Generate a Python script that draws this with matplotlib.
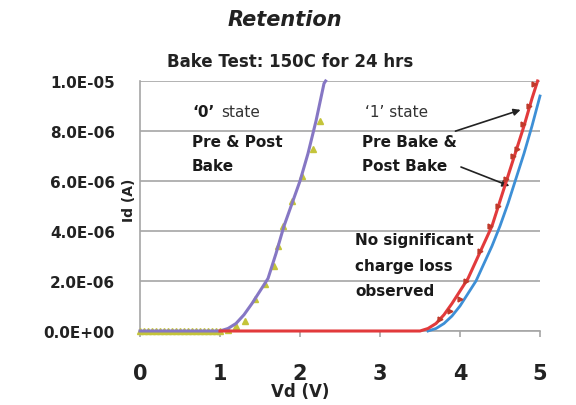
import matplotlib
matplotlib.use("Agg")
import matplotlib.pyplot as plt
from matplotlib.ticker import FuncFormatter

# '0' state, pre bake (line)
v0_pre = [0.0, 0.5, 1.0, 1.1, 1.2, 1.3, 1.4, 1.5, 1.6, 1.7, 1.8, 1.9, 2.0, 2.1, 2.2, 2.3, 2.32]
i0_pre = [0, 0, 0, 0.1e-6, 0.3e-6, 0.65e-6, 1.1e-6, 1.6e-6, 2.1e-6, 3.1e-6, 4.2e-6,
          5.1e-6, 6.0e-6, 7.1e-6, 8.4e-6, 9.9e-6, 1.0e-5]
# '0' state, post bake (triangles)
v0_post = [0.0, 0.05, 0.1, 0.15, 0.2, 0.25, 0.3, 0.35, 0.4, 0.45, 0.5, 0.55, 0.6, 0.65,
           0.7, 0.75, 0.8, 0.85, 0.9, 0.95, 1.0, 1.1, 1.2, 1.31, 1.44, 1.56, 1.67, 1.73,
           1.79, 1.9, 2.03, 2.16, 2.25]
i0_post = [0] * 21 + [0.05e-6, 0.2e-6, 0.4e-6, 1.3e-6, 1.9e-6, 2.6e-6, 3.4e-6, 4.2e-6,
                      5.2e-6, 6.2e-6, 7.3e-6, 8.4e-6]

# '1' state, pre bake (red line)
v1_pre = [1.0, 2.0, 3.0, 3.5, 3.6, 3.7, 3.8, 3.9, 4.0, 4.1, 4.2, 4.3, 4.4, 4.5, 4.6,
          4.7, 4.8, 4.9, 4.97]
i1_pre = [0, 0, 0, 0, 0.1e-6, 0.3e-6, 0.65e-6, 1.1e-6, 1.6e-6, 2.1e-6, 2.8e-6, 3.5e-6,
          4.2e-6, 5.2e-6, 6.2e-6, 7.2e-6, 8.2e-6, 9.3e-6, 1.0e-5]
# '1' state, red markers
v1_mk = [3.75, 3.87, 4.0, 4.08, 4.25, 4.37, 4.48, 4.58, 4.66, 4.71, 4.79, 4.86, 4.92]
i1_mk = [0.5e-6, 0.8e-6, 1.3e-6, 2.0e-6, 3.2e-6, 4.2e-6, 5.0e-6, 6.1e-6, 7.0e-6, 7.3e-6,
         8.3e-6, 9.0e-6, 9.9e-6]
# '1' state, post bake (blue line)
v1_post = [3.6, 3.7, 3.8, 3.9, 4.0, 4.1, 4.2, 4.3, 4.4, 4.5, 4.6, 4.7, 4.8, 4.9, 5.0]
i1_post = [0, 0.1e-6, 0.3e-6, 0.6e-6, 1.0e-6, 1.5e-6, 2.0e-6, 2.7e-6, 3.4e-6, 4.2e-6,
           5.1e-6, 6.1e-6, 7.1e-6, 8.2e-6, 9.4e-6]

y_ticks = [0, 2e-6, 4e-6, 6e-6, 8e-6, 1e-5]
x_ticks = [0, 1, 2, 3, 4, 5]

plt.rcParams['font.family'] = 'DejaVu Sans'

fig = plt.figure(figsize=(5.76, 4.06), dpi=100)
ax = fig.add_axes([140 / 576, 1 - 332 / 406, 400 / 576, 250 / 406])

ax.set_xlim(0, 5)
ax.set_ylim(0, 1e-5)
ax.set_yticks(y_ticks)
ax.set_xticks(x_ticks)
ax.yaxis.set_major_formatter(FuncFormatter(lambda v, p: f"{v:.1E}"))
ax.grid(axis='y', color='#a6a6a6', lw=1.2)
ax.set_axisbelow(True)
for s in ['top', 'right']:
    ax.spines[s].set_visible(False)
for s in ['left', 'bottom']:
    ax.spines[s].set_color('#a6a6a6')
    ax.spines[s].set_linewidth(1.2)
ax.tick_params(axis='y', length=0, pad=18, labelsize=11)
ax.tick_params(axis='x', length=4, color='#a6a6a6', width=1.2, pad=19, labelsize=15)
for lab in ax.get_xticklabels() + ax.get_yticklabels():
    lab.set_fontweight('bold')
    lab.set_color('#222222')

ax.plot(v0_post, i0_post, '^', color='#c4c43a', ms=5, clip_on=False, zorder=3)
ax.plot(v0_pre, i0_pre, '-', color='#8677c4', lw=2.2, clip_on=False, zorder=4)
ax.plot(v1_post, i1_post, '-', color='#3d8fd6', lw=2.0, clip_on=False, zorder=3)
ax.plot(v1_pre, i1_pre, '-', color='#e23a3c', lw=2.2, clip_on=False, zorder=4)
ax.plot(v1_mk, i1_mk, '>', color='#c0392b', ms=3.5, clip_on=False, zorder=5)

bold = dict(fontsize=11, fontweight='bold', color='#1a1a1a')
ax.text(0.65, 8.8e-6, "\u20180\u2019", va='center', **bold)
ax.text(1.02, 8.8e-6, "state", va='center', fontsize=11, color='#333333')
ax.text(0.65, 7.6e-6, "Pre & Post", va='center', **bold)
ax.text(0.65, 6.64e-6, "Bake", va='center', **bold)

ax.text(2.81, 8.8e-6, "\u20181\u2019 state", va='center', fontsize=11, color='#333333')
ax.text(2.78, 7.6e-6, "Pre Bake &", va='center', **bold)
ax.text(2.78, 6.64e-6, "Post Bake", va='center', **bold)
ax.annotate("", xy=(4.79, 8.88e-6), xytext=(3.91, 7.96e-6),
            arrowprops=dict(arrowstyle='-|>', color='#222222', lw=1.2))
ax.annotate("", xy=(4.65, 5.76e-6), xytext=(3.98, 6.6e-6),
            arrowprops=dict(arrowstyle='-|>', color='#222222', lw=1.2))

ax.text(2.69, 3.68e-6, "No significant", va='center', **bold)
ax.text(2.69, 2.6e-6, "charge loss", va='center', **bold)
ax.text(2.69, 1.6e-6, "observed", va='center', **bold)

fig.text(285 / 576, 1 - 20 / 406, "Retention", ha='center', va='center',
         fontsize=15, fontweight='bold', style='italic', color='#222222')
fig.text(290 / 576, 1 - 62 / 406, "Bake Test: 150C for 24 hrs", ha='center', va='center',
         fontsize=12, fontweight='bold', color='#222222')
fig.text(129 / 576, 1 - 200 / 406, "Id (A)", rotation=90, ha='center', va='center',
         fontsize=10, fontweight='bold', color='#222222')
fig.text(300 / 576, 1 - 392 / 406, "Vd (V)", ha='center', va='center',
         fontsize=12, fontweight='bold', color='#222222')

fig.savefig("out.png", dpi=100)
